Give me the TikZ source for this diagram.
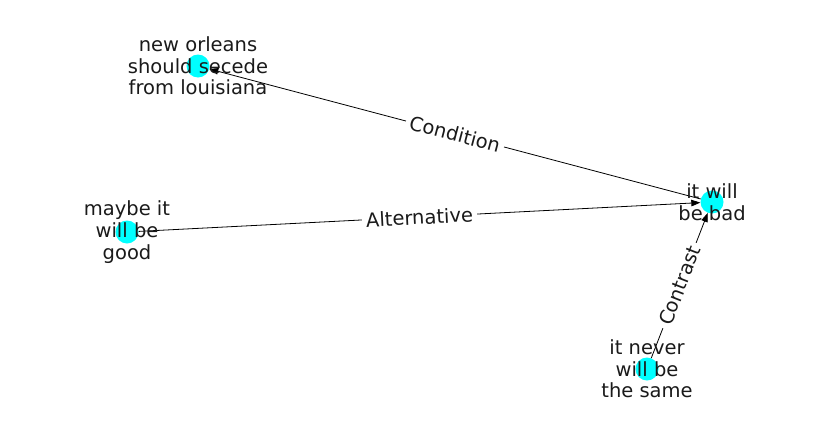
\documentclass[tikz,border=0pt]{standalone}
\usepackage{fontspec}
\setmainfont{DejaVu Sans}
\usetikzlibrary{arrows.meta}
\definecolor{nodecyan}{HTML}{00FFFF}
\definecolor{txt}{HTML}{1A1A1A}
\begin{document}
\begin{tikzpicture}[x=1pt,y=-1pt,
  dot/.style={circle,fill=nodecyan,minimum size=23pt,inner sep=0pt},
  lbl/.style={font=\fontsize{19.5}{21.7}\selectfont,align=center,text=txt,inner sep=0pt},
  edgelbl/.style={font=\fontsize{19.5}{21.7}\selectfont,text=txt,fill=white,inner sep=4pt,sloped,midway},
  conn/.style={line width=0.8pt,-{Triangle[length=9pt,width=6.5pt]}}]
\useasboundingbox (0,0) rectangle (837,434);
\node[dot] (no) at (198,66) {};
\node[dot] (bad) at (712,202) {};
\node[dot] (maybe) at (127,232) {};
\node[dot] (never) at (647,369) {};
\draw[conn] (bad) -- node[edgelbl] {Condition} (no);
\draw[conn] (maybe) -- node[edgelbl] {Alternative} (bad);
\draw[conn] (never) -- node[edgelbl] {Contrast} (bad);
\node[lbl] (tno) at (no.center) {new orleans\\should secede\\from louisiana};
\node[lbl] (tbad) at (bad.center) {it will\\be bad};
\node[lbl] (tmaybe) at (maybe.center) {maybe it\\will be\\good};
\node[lbl] (tnever) at (never.center) {it never\\will be\\the same};
\end{tikzpicture}
\end{document}
